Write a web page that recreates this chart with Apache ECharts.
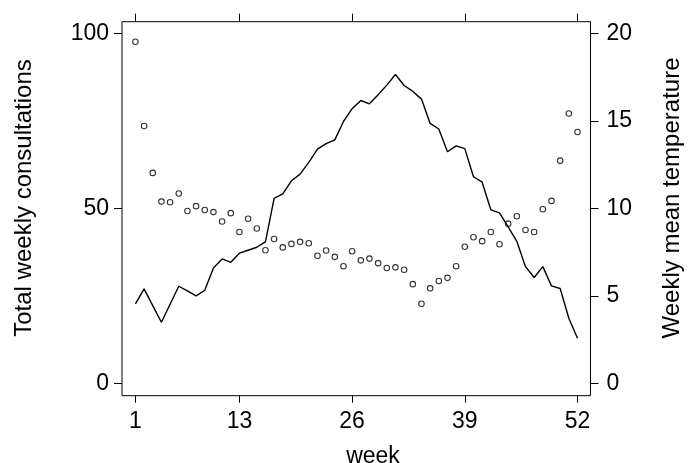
<!DOCTYPE html>
<html>
<head>
<meta charset="utf-8">
<script src="https://cdn.jsdelivr.net/npm/echarts@6/dist/echarts.min.js"></script>
<style>
html,body{margin:0;padding:0;background:#fff;}
#chart{width:688px;height:463px;}
</style>
</head>
<body>
<div id="chart"></div>
<script>
const weeks = [1,2,3,4,5,6,7,8,9,10,11,12,13,14,15,16,17,18,19,20,21,22,23,24,25,26,27,28,29,30,31,32,33,34,35,36,37,38,39,40,41,42,43,44,45,46,47,48,49,50,51,52];
const consultations = [97.7,73.6,60.2,52.0,51.8,54.3,49.3,50.7,49.6,49.0,46.3,48.7,43.3,47.1,44.3,38.1,41.3,38.9,39.9,40.5,40.1,36.5,38.0,36.2,33.5,37.8,35.2,35.7,34.4,33.0,33.2,32.5,28.4,22.8,27.2,29.3,30.2,33.5,39.1,41.8,40.7,43.3,39.8,45.7,47.8,43.9,43.3,49.8,52.2,63.7,77.2,71.9];
const temperature = [4.55,5.41,4.45,3.50,4.53,5.56,5.29,5.01,5.33,6.60,7.12,6.93,7.45,7.62,7.79,8.10,10.58,10.84,11.59,11.97,12.64,13.40,13.71,13.93,14.98,15.71,16.18,15.99,16.51,17.06,17.67,17.04,16.70,16.26,14.87,14.55,13.25,13.59,13.43,11.82,11.51,9.93,9.76,8.95,8.13,6.68,6.06,6.68,5.58,5.43,3.73,2.59];
const xTicks = [1,13,26,39,52];
const leftTicks = [0,50,100];
const rightTicks = [0,5,10,15,20];
const leftTitle = 'Total weekly consultations';
const rightTitle = 'Weekly mean temperature';
const xTitle = 'week';

const FONT = 'Liberation Sans, Arial, Helvetica, sans-serif';
const FS = 23;
const TFS = 24;

const chart = echarts.init(document.getElementById('chart'), null, {renderer:'canvas'});
const xMin = -0.548, xMax = 53.5;
const lMin = -3.49, lMax = 103.43;
const tickStyle = {color:'#000', width:1};
chart.setOption({
  animation:false,
  backgroundColor:'#fff',
  grid:{left:122, right:97.5, top:21.7, bottom:67.3, show:true, borderColor:'#000', borderWidth:1, backgroundColor:'transparent'},
  xAxis:[
    {
      type:'value', min:xMin, max:xMax, position:'bottom',
      splitLine:{show:false}, axisLine:{show:false, onZero:false},
      axisTick:{show:true, inside:false, length:7, lineStyle:tickStyle, customValues:xTicks},
      axisLabel:{show:true, customValues:xTicks, fontSize:FS, fontFamily:FONT, color:'#000', margin:14}
    },
    {
      type:'value', min:xMin, max:xMax, position:'top',
      splitLine:{show:false}, axisLine:{show:false, onZero:false},
      axisTick:{show:true, inside:false, length:8, lineStyle:tickStyle, customValues:xTicks},
      axisLabel:{show:false}
    }
  ],
  yAxis:[
    {
      type:'value', position:'left', min:lMin, max:lMax,
      splitLine:{show:false}, axisLine:{show:false, onZero:false},
      axisTick:{show:true, inside:false, length:8, lineStyle:tickStyle, customValues:leftTicks},
      axisLabel:{customValues:leftTicks, fontSize:FS, fontFamily:FONT, color:'#000', margin:13}
    },
    {
      type:'value', position:'right', min:lMin/5, max:lMax/5,
      splitLine:{show:false}, axisLine:{show:false, onZero:false},
      axisTick:{show:true, inside:false, length:8, lineStyle:tickStyle, customValues:rightTicks},
      axisLabel:{customValues:rightTicks, fontSize:FS, fontFamily:FONT, color:'#000', margin:16}
    }
  ],
  series:[
    {
      type:'line', xAxisIndex:0, yAxisIndex:1,
      data:weeks.map((w,i)=>[w,temperature[i]]),
      showSymbol:false, symbol:'none',
      lineStyle:{color:'#000', width:1.4},
      z:2
    },
    {
      type:'scatter', xAxisIndex:0, yAxisIndex:0,
      data:weeks.map((w,i)=>[w,consultations[i]]),
      symbol:'circle', symbolSize:5.5,
      itemStyle:{color:'rgba(0,0,0,0)', borderColor:'#000', borderWidth:1.1},
      z:3
    }
  ],
  graphic:[
    {type:'text', x:24, y:198, rotation:Math.PI/2,
      style:{text:leftTitle, fontSize:TFS, fontFamily:FONT, fill:'#000', align:'center', verticalAlign:'middle'}},
    {type:'text', x:672, y:198, rotation:Math.PI/2,
      style:{text:rightTitle, fontSize:TFS, fontFamily:FONT, fill:'#000', align:'center', verticalAlign:'middle'}},
    {type:'text', x:373, y:457,
      style:{text:xTitle, fontSize:FS, fontFamily:FONT, fill:'#000', align:'center', verticalAlign:'middle'}}
  ]
});
</script>
</body>
</html>
